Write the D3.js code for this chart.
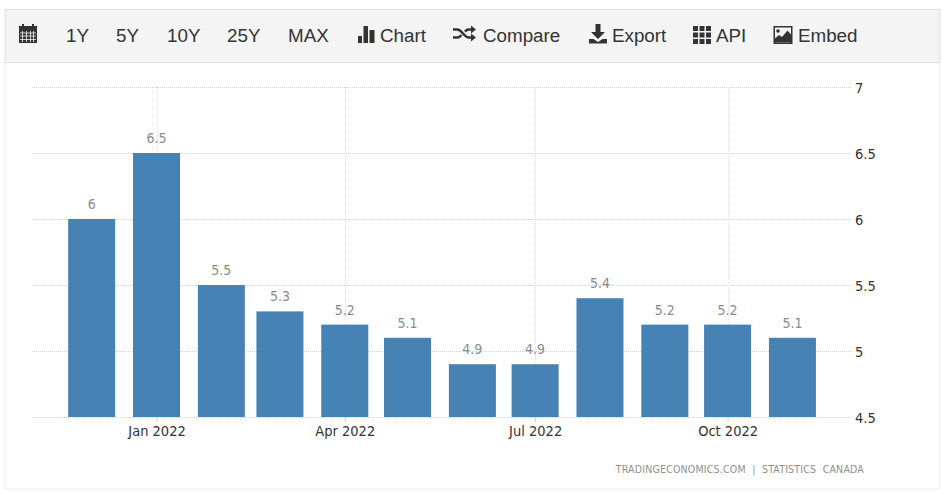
<!DOCTYPE html>
<html>
<head>
<meta charset="utf-8">
<script src="https://cdn.jsdelivr.net/npm/d3@7/dist/d3.min.js"></script>
<style>
html,body{margin:0;padding:0;background:#fff;}
svg{display:block;}
</style>
</head>
<body>
<svg id="c" width="943" height="494"></svg>
<script>
const months = ["2021-12-01","2022-01-01","2022-02-01","2022-03-01","2022-04-01","2022-05-01","2022-06-01","2022-07-01","2022-08-01","2022-09-01","2022-10-01","2022-11-01"];
const values = [6,6.5,5.5,5.3,5.2,5.1,4.9,4.9,5.4,5.2,5.2,5.1];
const yTicks = [4.5,5,5.5,6,6.5,7];
const xTicks = ["2022-01-01","2022-04-01","2022-07-01","2022-10-01"];
const rangeButtons = ["1Y","5Y","10Y","25Y","MAX"];
const sourceText = "TRADINGECONOMICS.COM  |  STATISTICS  CANADA";

const svg = d3.select("#c");
const parse = d3.utcParse("%Y-%m-%d");
const fmt = d3.utcFormat("%b %Y");
const x = d3.scaleUtc().domain([parse("2021-11-02"), parse("2022-11-29")]).range([31, 851]);
const y = d3.scaleLinear().domain([4.5, 7]).range([417, 87]);
const chartFont = "'DejaVu Sans Condensed', 'DejaVu Sans', sans-serif";
const uiFont = "'Liberation Sans', Arial, sans-serif";
const barWidth = 47;

// panel and toolbar
svg.append("rect").attr("x",4.5).attr("y",62.5).attr("width",935).attr("height",426.5)
  .attr("fill","#fff").attr("stroke","#eeeeee");
svg.append("rect").attr("x",5).attr("y",9.5).attr("width",935).attr("height",53)
  .attr("fill","#f4f4f4").attr("stroke","#e0e0e0");

const ink = "#333333";
const tb = svg.append("g").attr("font-family",uiFont).attr("font-size",18.8).attr("fill",ink);
const labelY = 42;
[["1Y",66],["5Y",116],["10Y",167],["25Y",227],["MAX",288]].forEach(([t,px],i)=>{
  tb.append("text").attr("x",px).attr("y",labelY).text(rangeButtons[i]);
});
[["Chart",380],["Compare",483],["Export",612],["API",716],["Embed",798]].forEach(([t,px])=>{
  tb.append("text").attr("x",px).attr("y",labelY).text(t);
});
// calendar icon
const cal = tb.append("g");
cal.append("path").attr("d","M19 26h18v17H19z M22 24h2v3h-2z M32 24h2v3h-2z").attr("fill",ink);
cal.append("path").attr("d","M20 33h16M20 36h16M20 39.500h16").attr("stroke","#f4f4f4").attr("stroke-width",0.8);
cal.append("path").attr("d","M22.500 31v11M26.500 31v11M30.500 31v11M33.500 31v11").attr("stroke","#f4f4f4").attr("stroke-width",0.8);
// chart icon
tb.append("path").attr("d","M358 36h4v7h-4z M363.500 26h4.500v17h-4.500z M369.500 30h5v13h-5z").attr("fill",ink);
// shuffle icon
tb.append("path").attr("d","M453 29.500h4.500c4 0 7 8 11 8h3.500 M453 37.500h4.500c1.500 0 3-1.200 4-2.500 M465 31.500c1-1 2.200-2 3.500-2h3.500")
  .attr("fill","none").attr("stroke",ink).attr("stroke-width",2.6);
tb.append("path").attr("d","M471 25.500l5 4-5 4z M471 33.500l5 4-5 4z").attr("fill",ink);
// download icon
tb.append("path").attr("d","M595.500 24h5v8h4.500l-7 7-7-7h4.500z M589 39h4.500l4.500 3 4.500-3h4.500v4.500h-18z").attr("fill",ink);
// grid icon
const gr = tb.append("g");
[693,699.5,706].forEach(gx=>[26,32.5,39].forEach(gy=>{
  gr.append("rect").attr("x",gx).attr("y",gy).attr("width",5).attr("height",5).attr("fill",ink);
}));
// picture icon
tb.append("path").attr("fill-rule","evenodd").attr("d","M773.500 26h19v18h-19z M775 27.500v15h16v-15z").attr("fill",ink);
tb.append("path").attr("d","M775 42.500v-4l4-3.500 3 2 5.500-6.500 3.500 4v8z").attr("fill",ink);
tb.append("circle").attr("cx",778).attr("cy",31).attr("r",1.8).attr("fill",ink);

// grid
const dash = "1 1";
svg.append("g").selectAll("line").data(yTicks).join("line")
  .attr("x1",32).attr("x2",852)
  .attr("y1",d=>Math.round(y(d))+0.5).attr("y2",d=>Math.round(y(d))+0.5)
  .attr("stroke","#d2d2d2").attr("stroke-dasharray",dash);
svg.append("g").selectAll("line").data(xTicks).join("line")
  .attr("x1",d=>Math.round(x(parse(d)))+0.5).attr("x2",d=>Math.round(x(parse(d)))+0.5)
  .attr("y1",87).attr("y2",417)
  .attr("stroke","#e0e0e0").attr("stroke-dasharray",dash);

// bars
svg.append("g").selectAll("rect").data(values).join("rect")
  .attr("x",(d,i)=>x(parse(months[i]))-barWidth/2)
  .attr("width",barWidth)
  .attr("y",d=>y(d))
  .attr("height",d=>y(4.5)-y(d))
  .attr("fill","#4682b4");

// value labels
svg.append("g").selectAll("text").data(values).join("text")
  .attr("x",(d,i)=>x(parse(months[i])))
  .attr("y",d=>y(d)-10)
  .attr("text-anchor","middle")
  .attr("font-family",chartFont).attr("font-size",14).attr("fill","#8b8b8b")
  .text(d=>d);

// y axis
const yAxis = d3.axisRight(y).tickValues(yTicks).tickSize(0).tickPadding(0).tickFormat(d=>d);
const gy = svg.append("g").attr("transform","translate(855,0.5)").call(yAxis);
gy.select(".domain").remove();
gy.selectAll("text").attr("font-family",chartFont).attr("font-size",14.500).attr("fill","#333");

// x axis
const xAxis = d3.axisBottom(x).tickValues(xTicks.map(parse)).tickSize(5).tickPadding(4).tickFormat(fmt);
const gx = svg.append("g").attr("transform","translate(0,417)").call(xAxis);
gx.select(".domain").remove();
gx.selectAll("line").attr("stroke","#cccccc");
gx.selectAll("text").attr("font-family",chartFont).attr("font-size",14.500).attr("fill","#333");

// source
svg.append("text").attr("x",864).attr("y",473).attr("text-anchor","end")
  .style("white-space","pre").attr("letter-spacing",0.2)
  .attr("font-family",chartFont).attr("font-size",10.500).attr("fill","#8f8f8f").text(sourceText);
</script>
</body>
</html>
